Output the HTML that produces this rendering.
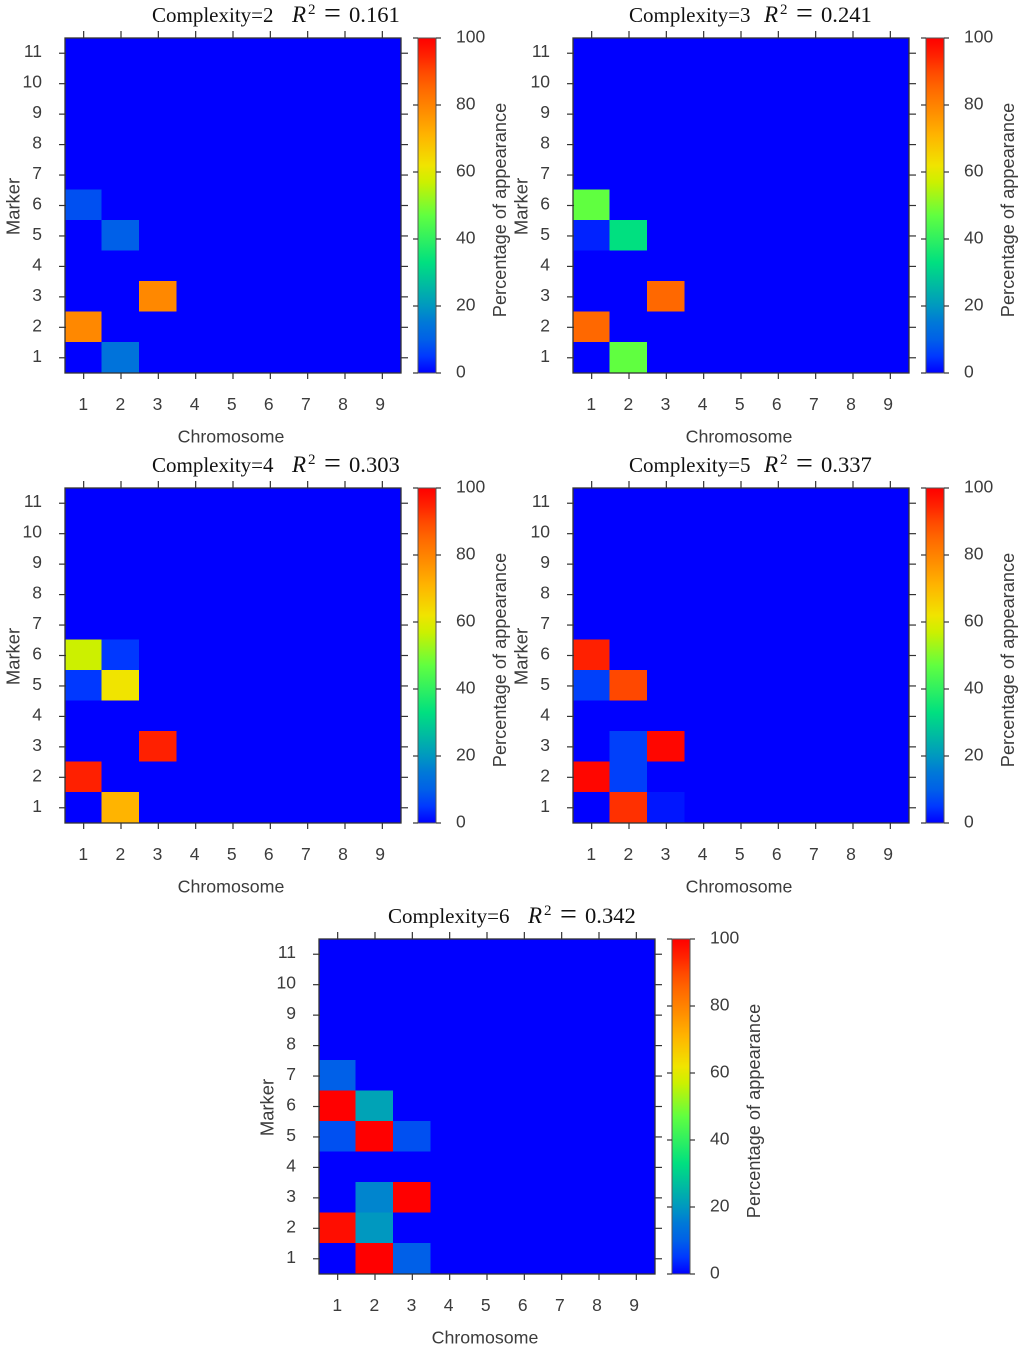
<!DOCTYPE html>
<html>
<head>
<meta charset="utf-8">
<title>Percentage of appearance heatmaps by complexity</title>
<style>
html,body{margin:0;padding:0;background:#fff;width:1024px;height:1351px;overflow:hidden}
svg{display:block}
.tick-label,.axis-title{font-family:"Liberation Sans",sans-serif;font-size:17.5px;fill:#3c3c3c}
.title-text{font-family:"Liberation Serif",serif;font-size:21px;fill:#111}
</style>
</head>
<body>
<svg id="figure" xmlns="http://www.w3.org/2000/svg" width="1024" height="1351" viewBox="0 0 1024 1351"><defs id="defs"></defs></svg>
<script>
// Data: rows run from marker 1 (first row) to marker 11, columns chromosome 1 to 9.
const chromosomes = ['1','2','3','4','5','6','7','8','9'];
const markers = ['1','2','3','4','5','6','7','8','9','10','11'];
const colorbarTicks = [0,20,40,60,80,100];
const complexities = [2,3,4,5,6];
const r2Values = ['0.161','0.241','0.303','0.337','0.342'];

const complexity2 = [
 [0,14,0,0,0,0,0,0,0],
 [79,0,0,0,0,0,0,0,0],
 [0,0,79,0,0,0,0,0,0],
 [0,0,0,0,0,0,0,0,0],
 [0,10,0,0,0,0,0,0,0],
 [8,0,0,0,0,0,0,0,0],
 [0,0,0,0,0,0,0,0,0],
 [0,0,0,0,0,0,0,0,0],
 [0,0,0,0,0,0,0,0,0],
 [0,0,0,0,0,0,0,0,0],
 [0,0,0,0,0,0,0,0,0]
];
const complexity3 = [
 [0,47,0,0,0,0,0,0,0],
 [85,0,0,0,0,0,0,0,0],
 [0,0,85,0,0,0,0,0,0],
 [0,0,0,0,0,0,0,0,0],
 [3,33,0,0,0,0,0,0,0],
 [47,0,0,0,0,0,0,0,0],
 [0,0,0,0,0,0,0,0,0],
 [0,0,0,0,0,0,0,0,0],
 [0,0,0,0,0,0,0,0,0],
 [0,0,0,0,0,0,0,0,0],
 [0,0,0,0,0,0,0,0,0]
];
const complexity4 = [
 [0,71,0,0,0,0,0,0,0],
 [95,0,0,0,0,0,0,0,0],
 [0,0,95,0,0,0,0,0,0],
 [0,0,0,0,0,0,0,0,0],
 [5,62,0,0,0,0,0,0,0],
 [57,5,0,0,0,0,0,0,0],
 [0,0,0,0,0,0,0,0,0],
 [0,0,0,0,0,0,0,0,0],
 [0,0,0,0,0,0,0,0,0],
 [0,0,0,0,0,0,0,0,0],
 [0,0,0,0,0,0,0,0,0]
];
const complexity5 = [
 [0,93,2,0,0,0,0,0,0],
 [99,6,0,0,0,0,0,0,0],
 [0,6,99,0,0,0,0,0,0],
 [0,0,0,0,0,0,0,0,0],
 [6,90,0,0,0,0,0,0,0],
 [95,0,0,0,0,0,0,0,0],
 [0,0,0,0,0,0,0,0,0],
 [0,0,0,0,0,0,0,0,0],
 [0,0,0,0,0,0,0,0,0],
 [0,0,0,0,0,0,0,0,0],
 [0,0,0,0,0,0,0,0,0]
];
const complexity6 = [
 [0,100,10,0,0,0,0,0,0],
 [98,20,0,0,0,0,0,0,0],
 [0,17,100,0,0,0,0,0,0],
 [0,0,0,0,0,0,0,0,0],
 [8,100,8,0,0,0,0,0,0],
 [100,22,0,0,0,0,0,0,0],
 [10,0,0,0,0,0,0,0,0],
 [0,0,0,0,0,0,0,0,0],
 [0,0,0,0,0,0,0,0,0],
 [0,0,0,0,0,0,0,0,0],
 [0,0,0,0,0,0,0,0,0]
];
const panelMatrices = [complexity2, complexity3, complexity4, complexity5, complexity6];

// Colour scale
const paletteValues = [0,5,10,15,20,33,40,47,57,62,71,79,85,90,95,100];
const paletteColors = ['#0000ff','#0038ff','#0060e8','#0078d8','#0098c0','#00e080','#30f060','#60ff40','#ccf000','#f0e400','#ffb400','#ff8800','#ff6800','#ff4800','#ff2000','#ff0000'];

const NS = 'http://www.w3.org/2000/svg';
const svg = document.getElementById('figure');
const defs = document.getElementById('defs');
const PLOT_W = 336, PLOT_H = 335;

function hexToRgb(h){return [parseInt(h.slice(1,3),16),parseInt(h.slice(3,5),16),parseInt(h.slice(5,7),16)];}
function colorScale(v){
  const c = Math.max(0, Math.min(100, v));
  for(let i=1;i<paletteValues.length;i++){
    if(c<=paletteValues[i]){
      const t=(c-paletteValues[i-1])/(paletteValues[i]-paletteValues[i-1]);
      const a=hexToRgb(paletteColors[i-1]), b=hexToRgb(paletteColors[i]);
      return 'rgb('+a.map((x,k)=>Math.round(x+(b[k]-x)*t)).join(',')+')';
    }
  }
  return paletteColors[paletteColors.length-1];
}
function make(tag, attrs, parent, text){
  const el=document.createElementNS(NS,tag);
  for(const k in attrs) el.setAttribute(k,attrs[k]);
  if(text!==undefined) el.textContent=text;
  parent.appendChild(el);
  return el;
}
function tickLine(parent,x1,y1,x2,y2){
  const el=make('line',{x1:x1,y1:y1,x2:x2,y2:y2,stroke:'#333','stroke-width':1.2},parent);
  
  
}

// Shared colourbar gradient
const grad=make('linearGradient',{id:'cb',x1:0,y1:1,x2:0,y2:0},defs);
paletteValues.forEach((v,i)=>make('stop',{offset:(v/100),'stop-color':paletteColors[i]},grad));

function panelOriginX(i){return i===4?319:(i%2===0?65:573);}
function panelOriginY(i){return i===4?939:(i<2?38:488);}

function drawPanel(i){
  const x0=panelOriginX(i), y0=panelOriginY(i);
  const matrix=panelMatrices[i];
  const xScale=c=>x0+c*PLOT_W/chromosomes.length;
  const yScale=m=>y0+PLOT_H-m*PLOT_H/markers.length;
  const cbScale=v=>y0+PLOT_H-v/100*PLOT_H;

  const g=make('g',{},svg);
  
  

  // cells
  matrix.forEach((row,m)=>{
    row.forEach((v,c)=>{
      const xa=xScale(c)-0.6, xb=xScale(c+1)-0.6, ya=yScale(m+1)-0.6, yb=yScale(m)-0.6;
      const cell=make('rect',{x:xa,y:ya,width:xb-xa,height:yb-ya,fill:colorScale(v),'shape-rendering':'crispEdges'},g);
      
      
    });
  });

  // frame
  const frame=make('rect',{x:x0,y:y0,width:PLOT_W,height:PLOT_H,fill:'none',stroke:'#333','stroke-width':1.3},g);
  
  

  // x ticks + labels
  chromosomes.forEach((lab,c)=>{
    const x=xScale(c+0.5);
    tickLine(g,x,y0-7,x,y0);
    tickLine(g,x,y0+PLOT_H,x,y0+PLOT_H+6);
    const t=make('text',{x:x0+18.3+c*37.1,y:y0+PLOT_H+37,'text-anchor':'middle',class:'tick-label'},g,lab);
    
    
  });

  // y ticks + labels
  markers.forEach((lab,m)=>{
    const y=yScale(m+0.5);
    tickLine(g,x0-6,y,x0+1,y);
    tickLine(g,x0+PLOT_W,y,x0+PLOT_W+7,y);
    const t=make('text',{x:x0-23,y:y+4,'text-anchor':'end',class:'tick-label'},g,lab);
    
    
  });

  // axis titles
  const xt=make('text',{x:x0+166,y:y0+PLOT_H+69.5,'text-anchor':'middle',class:'axis-title',style:'font-size:17.8px'},g,'Chromosome');
  
  
  const yx=x0-45.5, yy=y0+168.5;
  const yt=make('text',{x:yx,y:yy,'text-anchor':'middle',class:'axis-title',style:'font-size:18.4px',transform:'rotate(-90 '+yx+' '+yy+')'},g,'Marker');
  
  

  // colourbar
  const cbx=x0+353, cbw=18;
  const bar=make('rect',{x:cbx,y:y0,width:cbw,height:PLOT_H,fill:'url(#cb)',stroke:'#555','stroke-width':1},g);
  
  
  colorbarTicks.forEach(v=>{
    const y=cbScale(v);
    tickLine(g,cbx-5,y,cbx,y);
    tickLine(g,cbx+cbw,y,cbx+cbw+5,y);
    const t=make('text',{x:cbx+38,y:y+4.5,class:'tick-label'},g,String(v));
    
    
  });
  const cx=x0+441, cy=y0+172;
  const ct=make('text',{x:cx,y:cy,'text-anchor':'middle',class:'axis-title',style:'font-size:18.2px',transform:'rotate(-90 '+cx+' '+cy+')'},g,'Percentage of appearance');
  
  

  // title
  const ty=y0-16;
  const rShift=(i===1||i===3)?135:140;
  const titleG=make('g',{},g);
  
  
  const startX=(i===4?x0+69:(i%2===1?x0+56:x0+87));
  make('text',{x:startX,y:ty,class:'title-text'},titleG,'Complexity='+complexities[i]);
  make('text',{x:startX+rShift,y:ty,class:'title-text',style:'font-size:23px;font-style:italic'},titleG,'R');
  make('text',{x:startX+rShift+16,y:ty-8,class:'title-text',style:'font-size:15px'},titleG,'2');
  make('text',{x:startX+rShift+32,y:ty+0.5,class:'title-text',style:'font-size:30px'},titleG,'=');
  make('text',{x:startX+rShift+57,y:ty,class:'title-text',style:'font-size:22.6px'},titleG,r2Values[i]);
}
complexities.forEach((c,i)=>drawPanel(i));
</script>
</body>
</html>
